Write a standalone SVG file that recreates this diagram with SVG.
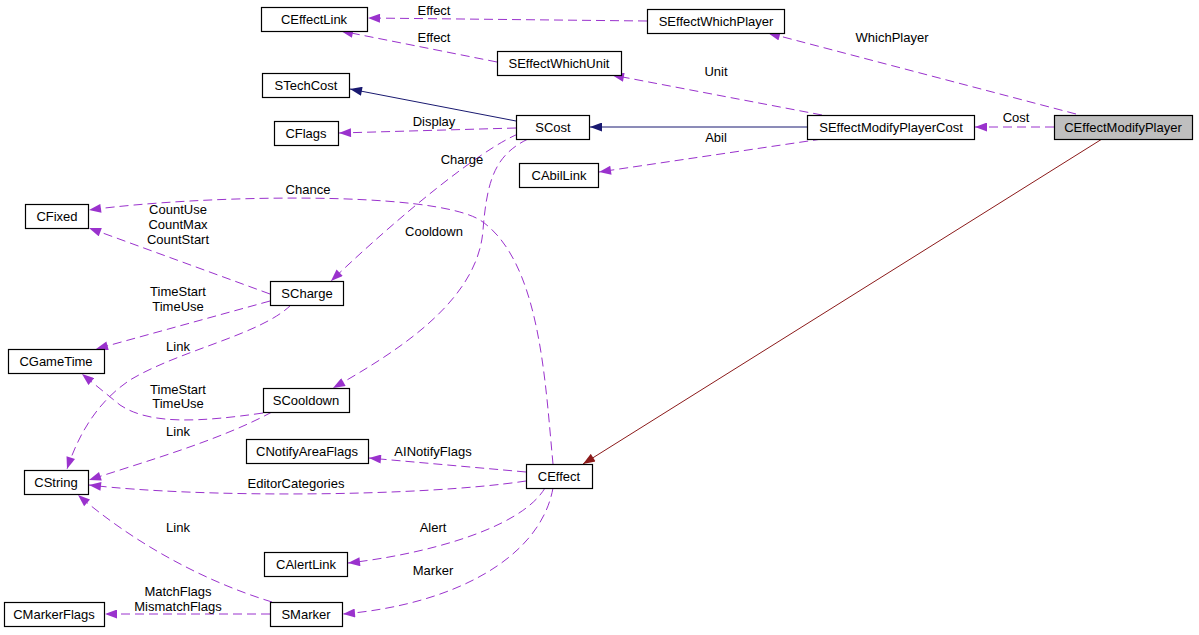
<svg xmlns="http://www.w3.org/2000/svg" width="1199" height="635" viewBox="0 0 1199 635">
<style>
text{font-family:"Liberation Sans",Arial,sans-serif;font-size:13px;fill:#000;text-anchor:middle}
.n rect{fill:#fff;stroke:#000;stroke-width:1.2}
.root rect{fill:#bfbfbf}
.e path{fill:none;stroke:#9a32cd;stroke-width:1;stroke-dasharray:9,5;marker-end:url(#ap)}
.e path.nv{stroke:#191970;stroke-dasharray:none;marker-end:url(#an)}
.e path.rd{stroke:#8b1a1a;stroke-dasharray:none;marker-end:url(#ar)}
</style>
<defs>
<marker id="ap" viewBox="0 0 12 9" refX="12" refY="4.5" markerWidth="13" markerHeight="9" markerUnits="userSpaceOnUse" orient="auto"><path d="M0,0L12,4.5L0,9z" fill="#9a32cd"/></marker>
<marker id="an" viewBox="0 0 12 9" refX="12" refY="4.5" markerWidth="13" markerHeight="9" markerUnits="userSpaceOnUse" orient="auto"><path d="M0,0L12,4.5L0,9z" fill="#191970"/></marker>
<marker id="ar" viewBox="0 0 12 9" refX="12" refY="4.5" markerWidth="13" markerHeight="9" markerUnits="userSpaceOnUse" orient="auto"><path d="M0,0L12,4.5L0,9z" fill="#8b1a1a"/></marker>
</defs>
<rect width="1199" height="635" fill="#fff"/>
<g id="edges" class="e">
<path d="M1054,127L975,127"/><text x="1016" y="122">Cost</text>
<path d="M1076,114L768,33"/><text x="892" y="42">WhichPlayer</text>
<path d="M822,115L612,75"/><text x="716" y="76">Unit</text>
<path class="nv" d="M807,127L590,127"/>
<path d="M822,139L599,172"/><text x="716" y="142">Abil</text>
<path d="M647,21L368,18"/><text x="434" y="15">Effect</text>
<path d="M497,62L341,31"/><text x="434" y="42">Effect</text>
<path class="nv" d="M516,121L350,89"/>
<path d="M516,128L339,133"/><text x="434" y="126">Display</text>
<path d="M518,134C480,150 400,215 331,281"/><text x="462" y="164">Charge</text>
<path d="M528,139C495,155 487,180 483,230C478,300 400,350 333,388"/><text x="434" y="236">Cooldown</text>
<path class="rd" d="M1102,139L583,464"/>
<path d="M553,464C545,380 540,260 480,220C430,190 200,195 89,210"/><text x="308" y="194">Chance</text>
<path d="M270,294L89,228"/><text x="178" y="214">CountUse</text><text x="178" y="229">CountMax</text><text x="178" y="244">CountStart</text>
<path d="M270,301L96,349"/><text x="178" y="296">TimeStart</text><text x="178" y="311">TimeUse</text>
<path d="M291,305C260,335 180,350 130,380C100,400 80,430 67,469"/><text x="178" y="351">Link</text>
<path d="M263,413C200,422 150,425 120,405L82,374"/><text x="178" y="394">TimeStart</text><text x="178" y="408">TimeUse</text>
<path d="M272,412C220,440 150,460 89,480"/><text x="178" y="436">Link</text>
<path d="M526,472L369,458"/><text x="433" y="456">AINotifyFlags</text>
<path d="M526,481C420,497 200,498 89,485"/><text x="296" y="488">EditorCategories</text>
<path d="M545,488C520,530 420,555 348,563"/><text x="433" y="532">Alert</text>
<path d="M553,488C540,560 450,605 343,614"/><text x="433" y="575">Marker</text>
<path d="M272,602C200,580 130,540 78,495"/><text x="178" y="532">Link</text>
<path d="M270,614L105,614"/><text x="178" y="596">MatchFlags</text><text x="178" y="611">MismatchFlags</text>
</g>
<g id="CEffectLink" class="n"><rect x="261.5" y="7.5" width="106" height="24"/><text x="314" y="24">CEffectLink</text></g>
<g id="SEffectWhichPlayer" class="n"><rect x="647.5" y="9.5" width="137" height="24"/><text x="716" y="26">SEffectWhichPlayer</text></g>
<g id="SEffectWhichUnit" class="n"><rect x="497.5" y="51.5" width="124" height="24"/><text x="559" y="68">SEffectWhichUnit</text></g>
<g id="STechCost" class="n"><rect x="262.5" y="73.5" width="87" height="24"/><text x="306" y="90">STechCost</text></g>
<g id="CFlags" class="n"><rect x="274.5" y="121.5" width="64" height="24"/><text x="306" y="138">CFlags</text></g>
<g id="SCost" class="n"><rect x="516.5" y="115.5" width="73" height="24"/><text x="553" y="132">SCost</text></g>
<g id="SEffectModifyPlayerCost" class="n"><rect x="807.5" y="115.5" width="167" height="24"/><text x="891" y="132">SEffectModifyPlayerCost</text></g>
<g id="CEffectModifyPlayer" class="n root"><rect x="1054.5" y="115.5" width="138" height="24"/><text x="1123" y="132">CEffectModifyPlayer</text></g>
<g id="CAbilLink" class="n"><rect x="519.5" y="163.5" width="79" height="24"/><text x="559" y="180">CAbilLink</text></g>
<g id="CFixed" class="n"><rect x="25.5" y="204.5" width="63" height="24"/><text x="57" y="221">CFixed</text></g>
<g id="SCharge" class="n"><rect x="270.5" y="281.5" width="73" height="24"/><text x="307" y="298">SCharge</text></g>
<g id="CGameTime" class="n"><rect x="8.5" y="349.5" width="96" height="24"/><text x="56" y="366">CGameTime</text></g>
<g id="SCooldown" class="n"><rect x="263.5" y="388.5" width="86" height="24"/><text x="306" y="405">SCooldown</text></g>
<g id="CNotifyAreaFlags" class="n"><rect x="246.5" y="439.5" width="122" height="24"/><text x="307" y="456">CNotifyAreaFlags</text></g>
<g id="CEffect" class="n"><rect x="526.5" y="464.5" width="66" height="24"/><text x="559" y="481">CEffect</text></g>
<g id="CString" class="n"><rect x="24.5" y="470.5" width="64" height="24"/><text x="56" y="487">CString</text></g>
<g id="CAlertLink" class="n"><rect x="264.5" y="552.5" width="83" height="24"/><text x="306" y="569">CAlertLink</text></g>
<g id="CMarkerFlags" class="n"><rect x="4.5" y="602.5" width="100" height="24"/><text x="54" y="619">CMarkerFlags</text></g>
<g id="SMarker" class="n"><rect x="270.5" y="602.5" width="72" height="24"/><text x="306" y="619">SMarker</text></g>
</svg>
